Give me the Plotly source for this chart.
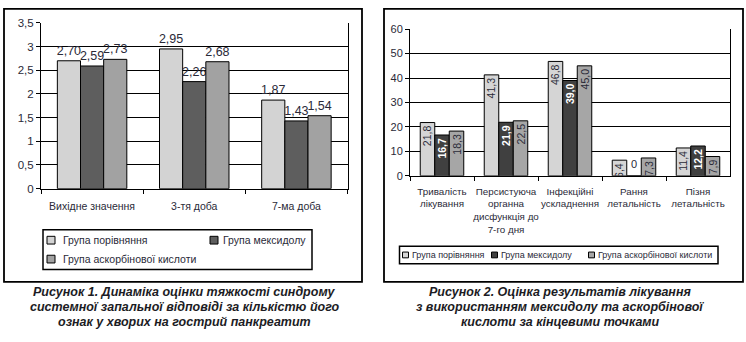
import plotly.graph_objects as go

# ---------------- data ----------------
series_names = ["Група порівняння", "Група мексидолу", "Група аскорбінової кислоти"]

fig1_categories = ["Вихідне значення", "3-тя доба", "7-ма доба"]
fig1_comparison = [2.70, 2.95, 1.87]
fig1_mexidol = [2.59, 2.26, 1.43]
fig1_ascorbic = [2.73, 2.68, 1.54]
fig1_yticks = [0, 0.5, 1, 1.5, 2, 2.5, 3, 3.5]

fig2_categories = [
    "Тривалість<br>лікування",
    "Персистуюча<br>органна<br>дисфункція до<br>7-го дня",
    "Інфекційні<br>ускладнення",
    "Рання<br>летальність",
    "Пізня<br>летальність",
]
fig2_comparison = [21.8, 41.3, 46.8, 6.4, 11.4]
fig2_mexidol = [16.7, 21.9, 39.0, 0, 12.2]
fig2_ascorbic = [18.3, 22.5, 45.0, 7.3, 7.9]
fig2_yticks = [0, 10, 20, 30, 40, 50, 60]

caption1 = [
    "Рисунок 1. Динаміка оцінки тяжкості синдрому",
    "системної запальної відповіді за кількістю його",
    "ознак у хворих на гострий панкреатит",
]
caption2 = [
    "Рисунок 2. Оцінка результатів лікування",
    "з використанням мексидолу та аскорбінової",
    "кислоти за кінцевими точками",
]

# ---------------- style ----------------
W, H = 746, 342
FONT = "Liberation Sans, Arial, sans-serif"
TXT = "#2a2a38"
colors1 = ["#d3d3d3", "#5e5e5e", "#a2a2a2"]
colors2 = ["#d5d5d5", "#404040", "#a6a6a6"]


def X(px):
    return px / W


def Y(py):
    return 1 - py / H


def fmt(v, d):
    return f"{v:.{d}f}".replace(".", ",")


fig = go.Figure()

# ---- chart 1 ----
for name, vals, col in zip(series_names, [fig1_comparison, fig1_mexidol, fig1_ascorbic], colors1):
    fig.add_trace(go.Bar(
        x=fig1_categories, y=vals, name=name,
        marker=dict(color=col, line=dict(color="black", width=1)),
        text=[fmt(v, 2) for v in vals], textposition="outside",
        textfont=dict(family=FONT, size=12.5, color=TXT),
        constraintext="none", cliponaxis=False,
        xaxis="x", yaxis="y", showlegend=False,
    ))

# ---- chart 2 ----
inner_colors = [TXT, "white", TXT]
for name, vals, col, tc in zip(series_names, [fig2_comparison, fig2_mexidol, fig2_ascorbic], colors2, inner_colors):
    fig.add_trace(go.Bar(
        x=fig2_categories, y=vals, name=name,
        marker=dict(color=col, line=dict(color="black", width=1)),
        text=[fmt(v, 1) if v != 0 else "" for v in vals],
        textposition="inside", insidetextanchor="end", textangle=-90,
        textfont=dict(family=FONT, size=10.5, color=tc,
                      weight="bold" if tc == "white" else "normal"),
        constraintext="none",
        xaxis="x2", yaxis="y2", showlegend=False,
    ))

# zero-value labels (drawn upright above the axis)
annotations = []
for cat, v in zip(fig2_categories, fig2_mexidol):
    if v == 0:
        annotations.append(dict(x=cat, y=v, xref="x2", yref="y2", text="0",
                                showarrow=False, yanchor="bottom", yshift=4,
                                font=dict(family=FONT, size=11, color=TXT)))

axis_common = dict(showline=True, linecolor="black", linewidth=1, ticks="outside",
                   tickcolor="black", ticklen=4, tickwidth=1)

fig.update_layout(
    width=W, height=H, margin=dict(l=0, r=0, t=0, b=0),
    paper_bgcolor="white", plot_bgcolor="white",
    separators=", ", barmode="group", bargap=0.32, bargroupgap=0,
    font=dict(family=FONT, color=TXT),
    xaxis=dict(domain=[X(41), X(347.5)], anchor="y", type="category",
               tickson="boundaries", showgrid=False, tickangle=0, ticklabelstandoff=8,
               tickfont=dict(size=10.5, color=TXT), **axis_common),
    yaxis=dict(domain=[Y(189.3), Y(17.5)], anchor="x", range=[0, 3.5],
               tickvals=fig1_yticks, showgrid=True, gridcolor="black", gridwidth=1,
               zeroline=False, mirror=True,
               tickfont=dict(size=11.5, color=TXT), **axis_common),
    xaxis2=dict(domain=[X(410), X(730)], anchor="y2", type="category",
                tickson="boundaries", showgrid=False, tickangle=0, ticklabelstandoff=6,
                tickfont=dict(size=9.8, color=TXT), **axis_common),
    yaxis2=dict(domain=[Y(176), Y(24)], anchor="x2", range=[0, 60],
                tickvals=fig2_yticks, showgrid=True, gridcolor="black", gridwidth=1,
                zeroline=False, mirror=True,
                tickfont=dict(size=11, color=TXT), **axis_common),
)

shapes = []


def rect(x0, y0, x1, y1, lw=1.5, fill=None):
    shapes.append(dict(type="rect", xref="paper", yref="paper",
                       x0=X(x0), x1=X(x1), y0=Y(y1), y1=Y(y0),
                       line=dict(color="black", width=lw),
                       fillcolor=fill if fill else "rgba(0,0,0,0)", layer="above"))


def label(px, py, text, size, xanchor="left", bold_italic=False, color=TXT):
    t = f"<b><i>{text}</i></b>" if bold_italic else text
    annotations.append(dict(x=X(px), y=Y(py), xref="paper", yref="paper", text=t,
                            showarrow=False, xanchor=xanchor, yanchor="middle",
                            font=dict(family=FONT, size=size, color=color)))


# outer frames
rect(4, 3, 362, 286, lw=1.8)
rect(384, 3, 743, 286, lw=1.8)

# legend 1
rect(43, 232, 312, 273)
leg1 = [(47, 242.7, 60.5), (210, 242.7, 221), (47, 262.3, 60.5)]
for (sx, sy, tx), name, col in zip(leg1, series_names, colors1):
    rect(sx, sy - 4, sx + 8, sy + 4, lw=1, fill=col)
    label(tx, sy, name, 10.5)

# legend 2
rect(399.5, 249, 718, 267)
leg2 = [(402.5, 410), (491.5, 499), (588.5, 596)]
for (sx, tx), name, col in zip(leg2, series_names, colors2):
    rect(sx, 255, sx + 6, 261, lw=1, fill=col)
    label(tx, 258, name, 9)

# captions
for i, line in enumerate(caption1):
    label(184.5, 296.5 + 15.5 * i, line, 12.5, xanchor="center", bold_italic=True, color="#1c1c24")
for i, line in enumerate(caption2):
    label(560, 296.5 + 15.5 * i, line, 12.5, xanchor="center", bold_italic=True, color="#1c1c24")

fig.update_layout(shapes=shapes, annotations=annotations)

fig.write_html("out.html")
